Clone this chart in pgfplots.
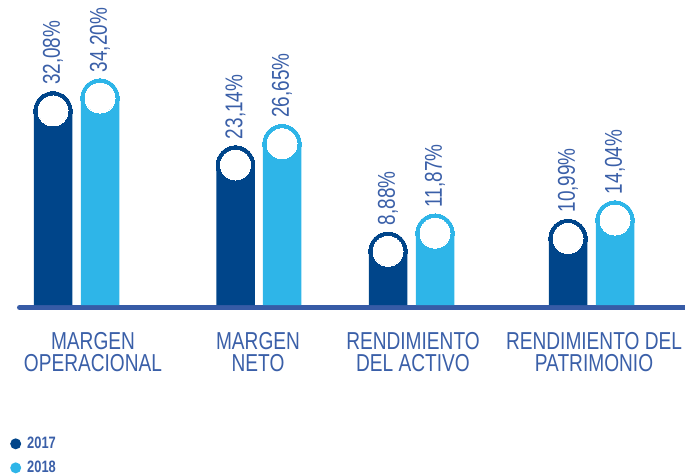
\documentclass[border=0pt]{standalone}
\usepackage{fontspec}
\setmainfont{Liberation Sans}[FakeStretch=0.78]
\usepackage{pgfplots}
\pgfplotsset{compat=1.18}
\usepackage{pgfplotstable}
\definecolor{dark}{HTML}{00458A}
\definecolor{light}{HTML}{2EB5E8}
\definecolor{lab}{HTML}{3A5FA8}
\definecolor{base}{HTML}{375BA6}

\pgfplotstableread{
x v
53 32.08
235.5 23.14
388 8.88
568 10.99
}\darkdata
\pgfplotstableread{
x v
100 34.20
282 26.65
435 11.87
615 14.04
}\lightdata

\begin{document}
\begin{tikzpicture}[x=1pt,y=1pt]
\useasboundingbox (0,0) rectangle (685,475);
\begin{axis}[
  at={(19.5pt,167.5pt)}, anchor=south west,
  scale only axis, width=668pt, height=307.5pt,
  xmin=19.5, xmax=687.5, ymin=-0.4132, ymax=50.413,
  clip=false,
  axis x line*=bottom, axis y line=none,
  x axis line style={line width=5pt, color=base, line cap=round, -},
  major tick length=0pt,
  ytick=\empty,
  xtick={93,258,413,594},
  xticklabels={{MARGEN\\OPERACIONAL},{MARGEN\\NETO},{RENDIMIENTO\\DEL ACTIVO},{RENDIMIENTO DEL\\PATRIMONIO}},
  xticklabel style={font=\fontsize{24.5}{22.3}\selectfont, align=center, text=lab, inner sep=0pt, yshift=-24.5pt},
  legend style={at={(axis description cs:-0.0142,-0.4150)}, anchor=north west, draw=none, fill=none,
    font=\fontsize{16.5}{16.5}\selectfont\bfseries, text=lab, row sep=7pt, column sep=4pt, inner sep=0pt},
  legend cell align=left,
  every node near coord/.append style={rotate=90, anchor=west, xshift=26pt, inner sep=0pt,
    font=\fontsize{24.3}{24.3}\selectfont, text=lab},
]
\addplot[ybar, bar width=38.5pt, bar shift=0pt, fill=dark, draw=none,
  legend image code/.code={\fill[dark] (0pt,0pt) circle (5.5pt);}] table[x=x,y=v]{\darkdata};
\addlegendentry{2017}
\addplot[ybar, bar width=38.5pt, bar shift=0pt, fill=light, draw=none,
  legend image code/.code={\fill[light] (0pt,0pt) circle (5.5pt);}] table[x=x,y=v]{\lightdata};
\addlegendentry{2018}
\addplot[dark, only marks, mark=*, mark size=19.25pt, mark options={fill=dark, draw=dark, line width=0pt}, forget plot] table[x=x,y=v]{\darkdata};
\addplot[light, only marks, mark=*, mark size=19.25pt, mark options={fill=light, draw=light, line width=0pt}, forget plot] table[x=x,y=v]{\lightdata};
\addplot[white, only marks, mark=*, mark size=15pt, mark options={fill=white, draw=white, line width=0pt}, forget plot,
  point meta=y,
  nodes near coords={\pgfmathprintnumber[use comma, fixed, fixed zerofill, precision=2, assume math mode=true]{\pgfplotspointmeta}\%}] table[x=x,y=v]{\darkdata};
\addplot[white, only marks, mark=*, mark size=15pt, mark options={fill=white, draw=white, line width=0pt}, forget plot,
  point meta=y,
  nodes near coords={\pgfmathprintnumber[use comma, fixed, fixed zerofill, precision=2, assume math mode=true]{\pgfplotspointmeta}\%}] table[x=x,y=v]{\lightdata};
\end{axis}
\end{tikzpicture}
\end{document}
